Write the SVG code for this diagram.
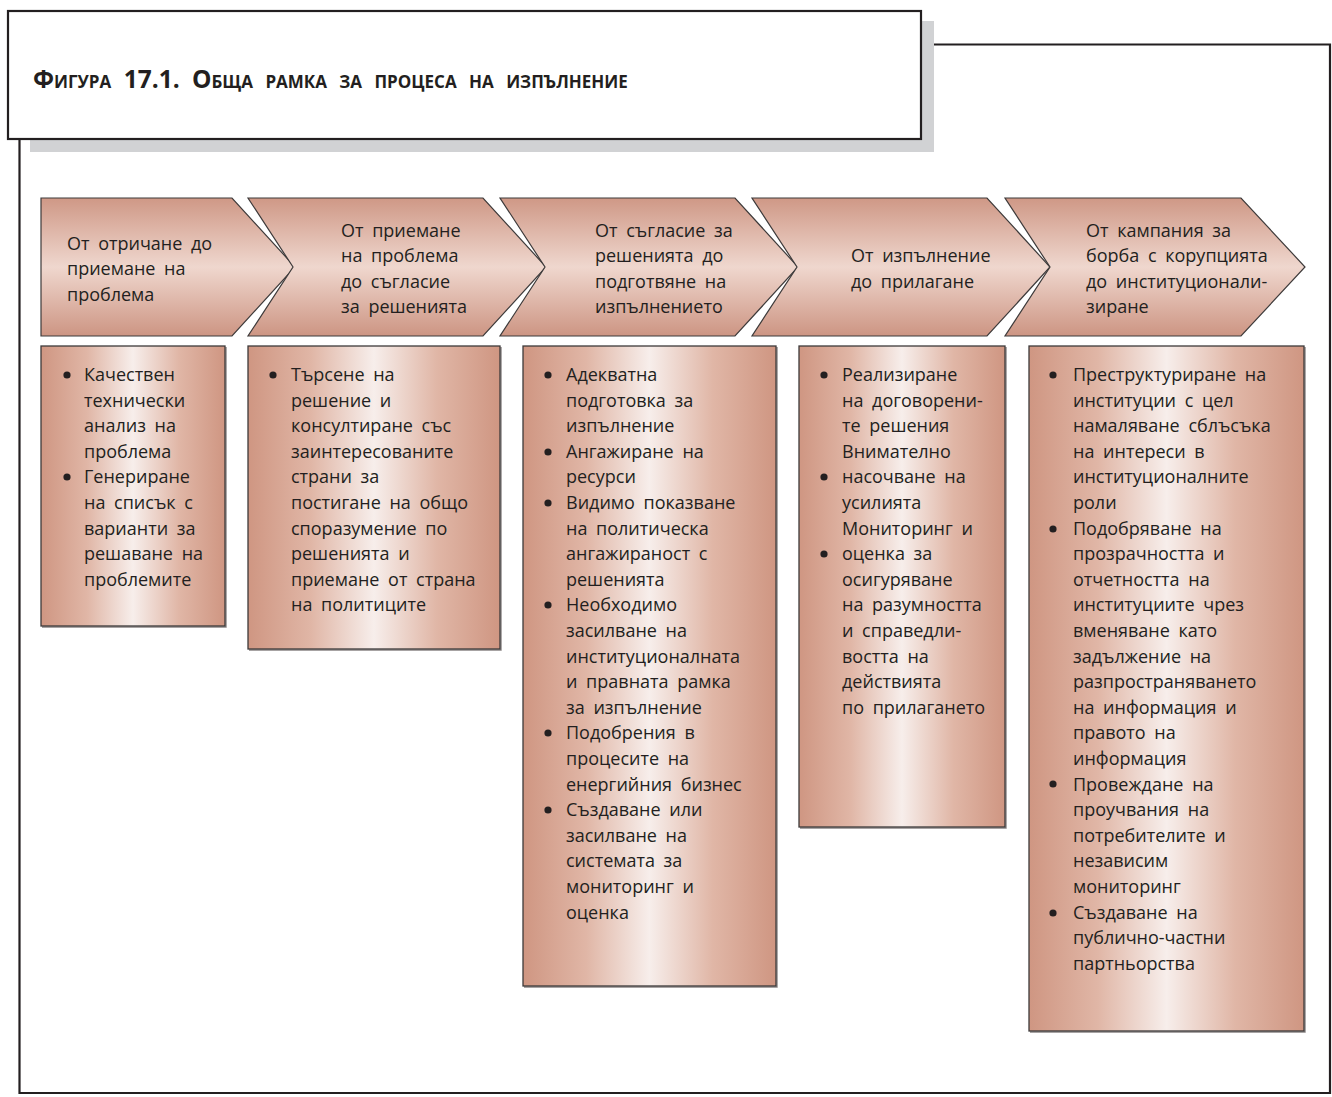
<svg xmlns="http://www.w3.org/2000/svg" width="1332" height="1097" viewBox="0 0 1332 1097">
<style>
.frame{fill:none;stroke:#231f20;stroke-width:2.2}
.chev{fill:url(#gChev);stroke:#3d3a3a;stroke-width:1.2}
.box{fill:url(#gBox);stroke:#3d3a3a;stroke-width:1.3}
.shd{fill:none;stroke:#8a8585;stroke-width:1.4}
.t{font-family:"Open Sans","Noto Sans",sans-serif;font-size:18px;fill:#231f20;word-spacing:4px}
.title{font-family:"Open Sans","Noto Sans",sans-serif;font-size:24.5px;font-weight:bold;fill:#231f20;font-variant:small-caps;word-spacing:6px}
.bul{fill:#231f20}
</style>
<defs>
<linearGradient id="gChev" x1="0" y1="0" x2="0" y2="1">
<stop offset="0" stop-color="#cf9886"/>
<stop offset="0.5" stop-color="#efd7ce"/>
<stop offset="1" stop-color="#cd9583"/>
</linearGradient>
<linearGradient id="gBox" x1="0" y1="0" x2="1" y2="0">
<stop offset="0" stop-color="#cf9682"/>
<stop offset="0.25" stop-color="#e0b6a6"/>
<stop offset="0.5" stop-color="#f7eeeb"/>
<stop offset="0.75" stop-color="#e0b6a6"/>
<stop offset="1" stop-color="#cf9682"/>
</linearGradient>
</defs>
<rect width="1332" height="1097" fill="#ffffff"/>

<g id="frame">
<path class="frame" d="M19.5,139 V1093 H1330 V44.5 H934"/>
<rect x="921" y="21" width="13" height="131" fill="#d1d2d4"/>
<rect x="30" y="139" width="904" height="13" fill="#d1d2d4"/>
<rect x="8" y="11" width="913" height="128" fill="#ffffff" stroke="#231f20" stroke-width="2.2"/>
</g>

<g id="title">
<text class="title" x="33" y="88">Фигура 17.1. Обща рамка за процеса на изпълнение</text>
</g>

<g id="connectors"></g>

<g id="stage1">
<path class="chev" d="M41,198 H232 L295,267 L232,336 H41 Z"/>
<text class="t"><tspan x="67" y="250">От отричане до</tspan><tspan x="67" y="275">приемане на</tspan><tspan x="67" y="301">проблема</tspan></text>
</g>
<g id="stage2">
<path class="chev" d="M248,198 H483 L546,267 L483,336 H248 L293,267 Z"/>
<text class="t"><tspan x="341" y="237">От приемане</tspan><tspan x="341" y="262">на проблема</tspan><tspan x="341" y="288">до съгласие</tspan><tspan x="341" y="313">за решенията</tspan></text>
</g>
<g id="stage3">
<path class="chev" d="M500,198 H735 L798,267 L735,336 H500 L545,267 Z"/>
<text class="t"><tspan x="595" y="237">От съгласие за</tspan><tspan x="595" y="262">решенията до</tspan><tspan x="595" y="288">подготвяне на</tspan><tspan x="595" y="313">изпълнението</tspan></text>
</g>
<g id="stage4">
<path class="chev" d="M752,198 H987 L1050,267 L987,336 H752 L797,267 Z"/>
<text class="t"><tspan x="851" y="262">От изпълнение</tspan><tspan x="851" y="288">до прилагане</tspan></text>
</g>
<g id="stage5">
<path class="chev" d="M1005,198 H1241 L1305,267 L1241,336 H1005 L1050,267 Z"/>
<text class="t"><tspan x="1086" y="237">От кампания за</tspan><tspan x="1086" y="262">борба с корупцията</tspan><tspan x="1086" y="288">до институционали-</tspan><tspan x="1086" y="313">зиране</tspan></text>
</g>

<g id="box1">
<path class="shd" d="M226,347 V627 H42"/>
<rect class="box" x="41" y="346" width="184" height="280"/>
<circle class="bul" cx="67" cy="375" r="3.6"/>
<circle class="bul" cx="67" cy="477" r="3.6"/>
<text class="t"><tspan x="84" y="381">Качествен</tspan><tspan x="84" y="406.6">технически</tspan><tspan x="84" y="432.2">анализ на</tspan><tspan x="84" y="457.8">проблема</tspan><tspan x="84" y="483.4">Генериране</tspan><tspan x="84" y="509">на списък с</tspan><tspan x="84" y="534.6">варианти за</tspan><tspan x="84" y="560.2">решаване на</tspan><tspan x="84" y="585.8">проблемите</tspan></text>
</g>

<g id="box2">
<path class="shd" d="M501,347 V650 H249"/>
<rect class="box" x="248" y="346" width="252" height="303"/>
<circle class="bul" cx="273" cy="375" r="3.6"/>
<text class="t"><tspan x="291" y="381">Търсене на</tspan><tspan x="291" y="406.6">решение и</tspan><tspan x="291" y="432.2">консултиране със</tspan><tspan x="291" y="457.8">заинтересованите</tspan><tspan x="291" y="483.4">страни за</tspan><tspan x="291" y="509">постигане на общо</tspan><tspan x="291" y="534.6">споразумение по</tspan><tspan x="291" y="560.2">решенията и</tspan><tspan x="291" y="585.8">приемане от страна</tspan><tspan x="291" y="611.4">на политиците</tspan></text>
</g>

<g id="box3">
<path class="shd" d="M777,347 V987 H524"/>
<rect class="box" x="523" y="346" width="253" height="640"/>
<circle class="bul" cx="548" cy="375" r="3.6"/>
<circle class="bul" cx="548" cy="452" r="3.6"/>
<circle class="bul" cx="548" cy="503" r="3.6"/>
<circle class="bul" cx="548" cy="605" r="3.6"/>
<circle class="bul" cx="548" cy="733" r="3.6"/>
<circle class="bul" cx="548" cy="810" r="3.6"/>
<text class="t"><tspan x="566" y="381">Адекватна</tspan><tspan x="566" y="406.6">подготовка за</tspan><tspan x="566" y="432.2">изпълнение</tspan><tspan x="566" y="457.8">Ангажиране на</tspan><tspan x="566" y="483.4">ресурси</tspan><tspan x="566" y="509">Видимо показване</tspan><tspan x="566" y="534.6">на политическа</tspan><tspan x="566" y="560.2">ангажираност с</tspan><tspan x="566" y="585.8">решенията</tspan><tspan x="566" y="611.4">Необходимо</tspan><tspan x="566" y="637">засилване на</tspan><tspan x="566" y="662.6">институционалната</tspan><tspan x="566" y="688.2">и правната рамка</tspan><tspan x="566" y="713.8">за изпълнение</tspan><tspan x="566" y="739.4">Подобрения в</tspan><tspan x="566" y="765">процесите на</tspan><tspan x="566" y="790.6">енергийния бизнес</tspan><tspan x="566" y="816.2">Създаване или</tspan><tspan x="566" y="841.8">засилване на</tspan><tspan x="566" y="867.4">системата за</tspan><tspan x="566" y="893">мониторинг и</tspan><tspan x="566" y="918.6">оценка</tspan></text>
</g>

<g id="box4">
<path class="shd" d="M1006,347 V828 H800"/>
<rect class="box" x="799" y="346" width="206" height="481"/>
<circle class="bul" cx="824" cy="375" r="3.6"/>
<circle class="bul" cx="824" cy="477" r="3.6"/>
<circle class="bul" cx="824" cy="554" r="3.6"/>
<text class="t"><tspan x="842" y="381">Реализиране</tspan><tspan x="842" y="406.6">на договорени-</tspan><tspan x="842" y="432.2">те решения</tspan><tspan x="842" y="457.8">Внимателно</tspan><tspan x="842" y="483.4">насочване на</tspan><tspan x="842" y="509">усилията</tspan><tspan x="842" y="534.6">Мониторинг и</tspan><tspan x="842" y="560.2">оценка за</tspan><tspan x="842" y="585.8">осигуряване</tspan><tspan x="842" y="611.4">на разумността</tspan><tspan x="842" y="637">и справедли-</tspan><tspan x="842" y="662.6">востта на</tspan><tspan x="842" y="688.2">действията</tspan><tspan x="842" y="713.8">по прилагането</tspan></text>
</g>

<g id="box5">
<path class="shd" d="M1305,347 V1032 H1030"/>
<rect class="box" x="1029" y="346" width="275" height="685"/>
<circle class="bul" cx="1053" cy="375" r="3.6"/>
<circle class="bul" cx="1053" cy="529" r="3.6"/>
<circle class="bul" cx="1053" cy="784" r="3.6"/>
<circle class="bul" cx="1053" cy="913" r="3.6"/>
<text class="t"><tspan x="1073" y="381">Преструктуриране на</tspan><tspan x="1073" y="406.6">институции с цел</tspan><tspan x="1073" y="432.2">намаляване сблъсъка</tspan><tspan x="1073" y="457.8">на интереси в</tspan><tspan x="1073" y="483.4">институционалните</tspan><tspan x="1073" y="509">роли</tspan><tspan x="1073" y="534.6">Подобряване на</tspan><tspan x="1073" y="560.2">прозрачността и</tspan><tspan x="1073" y="585.8">отчетността на</tspan><tspan x="1073" y="611.4">институциите чрез</tspan><tspan x="1073" y="637">вменяване като</tspan><tspan x="1073" y="662.6">задължение на</tspan><tspan x="1073" y="688.2">разпространяването</tspan><tspan x="1073" y="713.8">на информация и</tspan><tspan x="1073" y="739.4">правото на</tspan><tspan x="1073" y="765">информация</tspan><tspan x="1073" y="790.6">Провеждане на</tspan><tspan x="1073" y="816.2">проучвания на</tspan><tspan x="1073" y="841.8">потребителите и</tspan><tspan x="1073" y="867.4">независим</tspan><tspan x="1073" y="893">мониторинг</tspan><tspan x="1073" y="918.6">Създаване на</tspan><tspan x="1073" y="944.2">публично-частни</tspan><tspan x="1073" y="969.8">партньорства</tspan></text>
</g>
</svg>
